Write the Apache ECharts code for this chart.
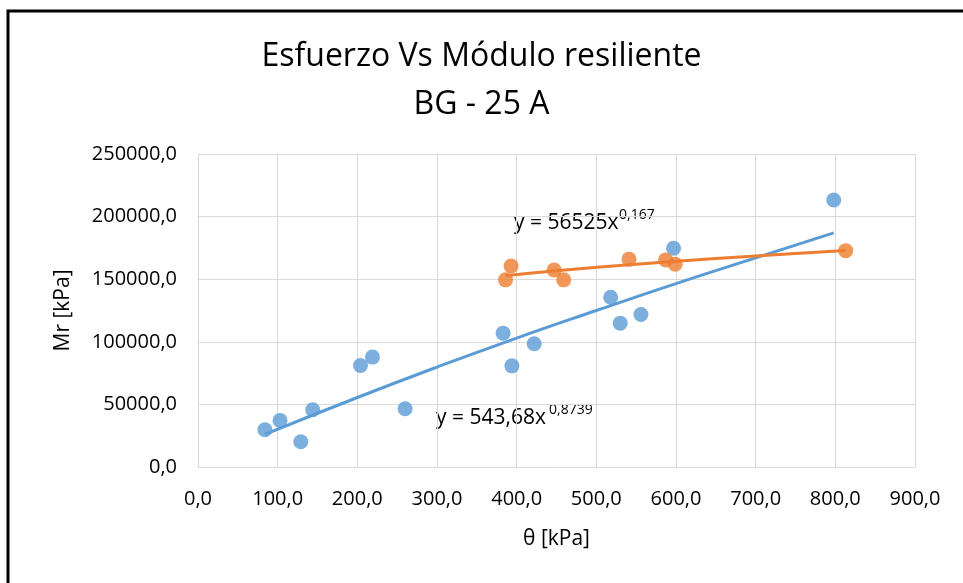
<!DOCTYPE html>
<html>
<head>
<meta charset="utf-8">
<title>Esfuerzo Vs Módulo resiliente</title>
<script src="https://cdn.jsdelivr.net/npm/echarts@6/dist/echarts.min.js"></script>
<style>
  html, body { margin: 0; padding: 0; background: #fff; }
  #chart { width: 963px; height: 583px; }
</style>
</head>
<body>
<div id="chart"></div>
<script>
// puntos medidos (θ, Mr)
const blueTheta = [84, 103, 129, 144, 204, 219, 260, 383, 394, 422, 518, 530, 556, 597, 798];
const blueMr = [29800, 37200, 20200, 45700, 81100, 87800, 46500, 106900, 80800, 98400, 135600, 114900, 121800, 174700, 213300];
const orangeTheta = [386, 393, 447, 459, 541, 587, 599, 813];
const orangeMr = [149500, 160600, 157400, 149500, 166000, 165400, 162000, 172800];

// lineas de tendencia
const blueTrendTheta = [84, 200, 300, 400, 500, 600, 700, 798];
const blueTrendMr = [26000, 55500, 79800, 103000, 125000, 146500, 167000, 187000];
const orangeTrendTheta = [386, 450, 550, 650, 750, 813];
const orangeTrendMr = [152800, 156800, 162000, 166600, 170500, 172900];

const xTicks = [0, 100, 200, 300, 400, 500, 600, 700, 800, 900];
const yTicks = [0, 50000, 100000, 150000, 200000, 250000];

const BLUE = '#5B9BD5';
const ORANGE = '#ED7D31';
const FONT = 'Open Sans';

const zip = (xs, ys) => xs.map((x, i) => [x, ys[i]]);
const fmt = v => v.toFixed(1).replace('.', ',');

const chart = echarts.init(document.getElementById('chart'));
chart.setOption({
    animation: false,
    textStyle: { fontFamily: FONT },
    title: {
        text: 'Esfuerzo Vs Módulo resiliente\nBG - 25 A',
        left: 'center',
        top: 28,
        textStyle: {
            fontFamily: FONT,
            fontSize: 32,
            fontWeight: 'normal',
            color: '#000',
            lineHeight: 48
        }
    },
    grid: {
        left: 198,
        top: 154,
        width: 717,
        height: 313
    },
    xAxis: {
        type: 'value',
        min: xTicks[0],
        max: xTicks[xTicks.length - 1],
        interval: 100,
        name: 'θ [kPa]',
        nameLocation: 'middle',
        nameGap: 62,
        nameTextStyle: { fontSize: 21, color: '#000', fontFamily: FONT },
        axisLine: { show: true, lineStyle: { color: '#D9D9D9' } },
        axisTick: { show: false },
        axisLabel: {
            formatter: fmt,
            fontSize: 20,
            color: '#000',
            margin: 22
        },
        splitLine: { show: true, lineStyle: { color: '#D9D9D9', width: 1 } }
    },
    yAxis: {
        type: 'value',
        min: yTicks[0],
        max: yTicks[yTicks.length - 1],
        interval: 50000,
        name: 'Mr [kPa]',
        nameLocation: 'middle',
        nameGap: 124,
        nameRotate: 90,
        nameTextStyle: { fontSize: 21, color: '#000', fontFamily: FONT },
        axisLine: { show: true, lineStyle: { color: '#D9D9D9' } },
        axisTick: { show: false },
        axisLabel: {
            formatter: fmt,
            fontSize: 20,
            color: '#000',
            margin: 21
        },
        splitLine: { show: true, lineStyle: { color: '#D9D9D9', width: 1 } }
    },
    graphic: [
        {
            type: 'rect',
            shape: { x: 8, y: 11, width: 980, height: 600 },
            style: { fill: 'none', stroke: '#000', lineWidth: 3 },
            silent: true
        },
        {
            type: 'text',
            left: 514, top: 213,
            style: { text: 'y = 56525x', fontFamily: FONT, fontSize: 21, fill: '#000' }
        },
        {
            type: 'text',
            left: 619, top: 208,
            style: { text: '0,167', fontFamily: FONT, fontSize: 14, fill: '#000' }
        },
        {
            type: 'text',
            left: 436, top: 408,
            style: { text: 'y = 543,68x', fontFamily: FONT, fontSize: 21, fill: '#000' }
        },
        {
            type: 'text',
            left: 549, top: 403,
            style: { text: '0,8739', fontFamily: FONT, fontSize: 14, fill: '#000' }
        }
    ],
    series: [
        {
            name: 'Serie azul',
            type: 'scatter',
            symbol: 'circle',
            symbolSize: 15,
            itemStyle: { color: BLUE },
            data: zip(blueTheta, blueMr),
            z: 2
        },
        {
            name: 'Serie naranja',
            type: 'scatter',
            symbol: 'circle',
            symbolSize: 15,
            itemStyle: { color: ORANGE },
            data: zip(orangeTheta, orangeMr),
            z: 2
        },
        {
            name: 'Potencial (azul)',
            type: 'line',
            smooth: true,
            showSymbol: false,
            lineStyle: { color: BLUE, width: 3 },
            data: zip(blueTrendTheta, blueTrendMr),
            z: 3
        },
        {
            name: 'Potencial (naranja)',
            type: 'line',
            smooth: true,
            showSymbol: false,
            lineStyle: { color: ORANGE, width: 3 },
            data: zip(orangeTrendTheta, orangeTrendMr),
            z: 3
        }
    ]
});
</script>
</body>
</html>
